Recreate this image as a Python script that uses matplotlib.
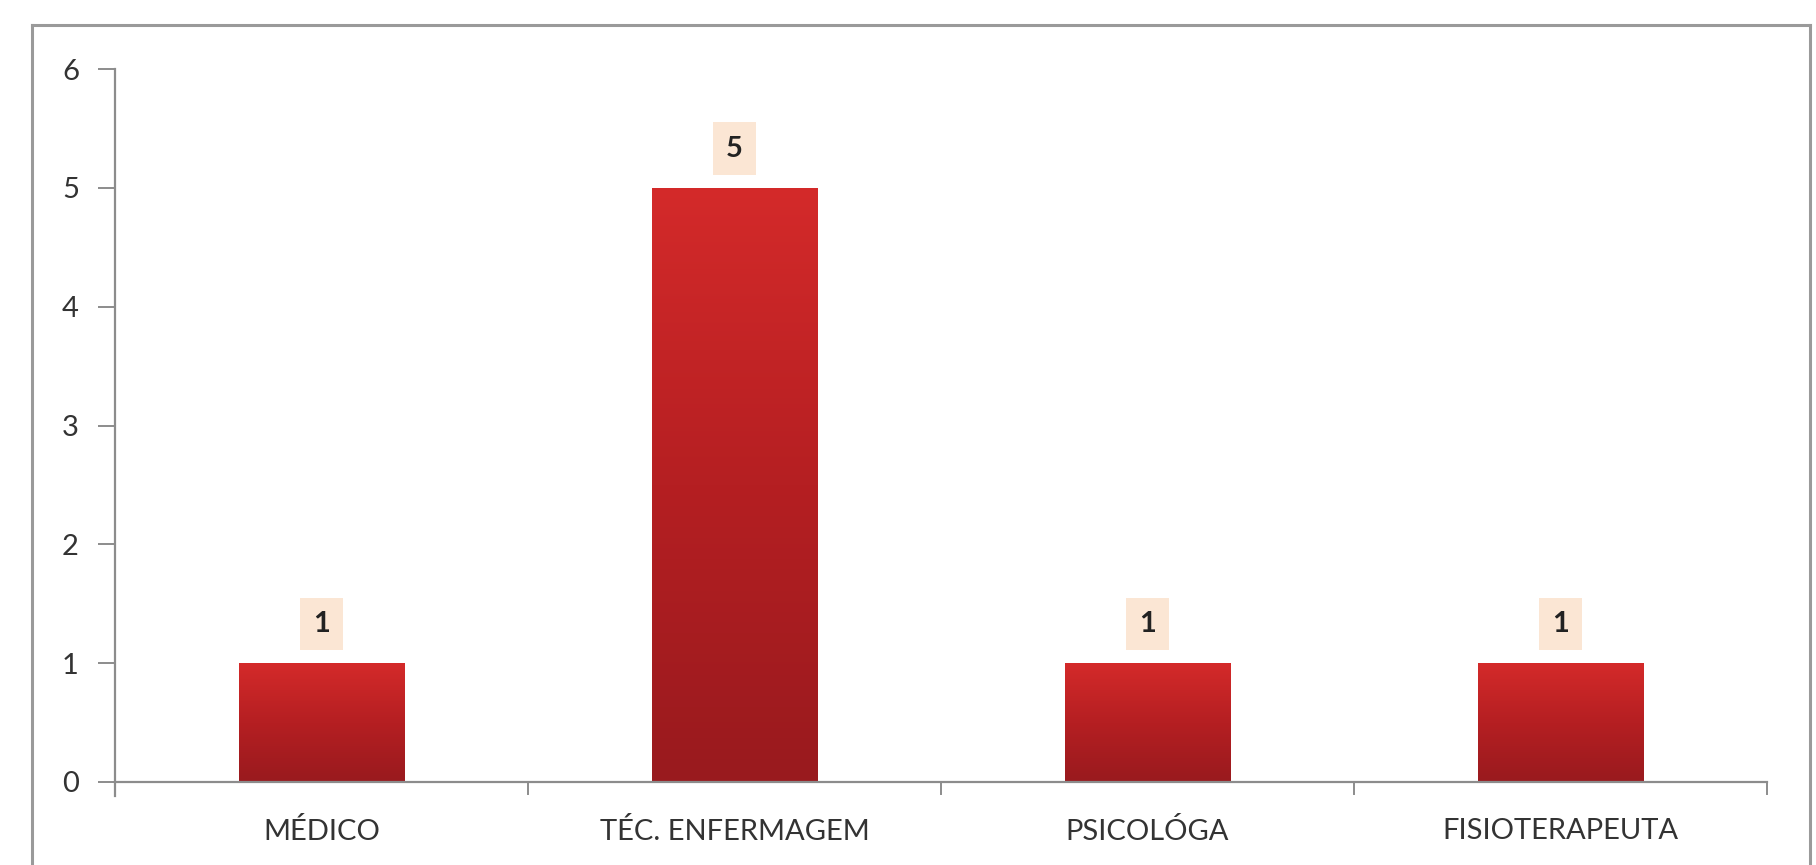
import numpy as np
import matplotlib
matplotlib.use("Agg")
import matplotlib.pyplot as plt
from matplotlib.colors import LinearSegmentedColormap
from matplotlib.patches import Rectangle

categories = ["MÉDICO", "TÉC. ENFERMAGEM", "PSICOLÓGA", "FISIOTERAPEUTA"]
counts = [1, 5, 1, 1]
yticks = [0, 1, 2, 3, 4, 5, 6]

plt.rcParams["font.family"] = ["Lato", "DejaVu Sans"]
W, H, DPI = 1816, 865, 100
fig = plt.figure(figsize=(W / DPI, H / DPI), dpi=DPI)
fig.patch.set_facecolor("white")

# outer chart frame (no bottom edge)
frame_col = "#9a9a9a"
fig.add_artist(plt.Line2D([32 / W, 32 / W], [0, 1 - 25 / H], color=frame_col, lw=2.2))
fig.add_artist(plt.Line2D([32 / W, 1810 / W], [1 - 25 / H, 1 - 25 / H], color=frame_col, lw=2.2))
fig.add_artist(plt.Line2D([1810 / W, 1810 / W], [0, 1 - 25 / H], color=frame_col, lw=2.2))

ax = fig.add_axes([115 / W, 1 - 782 / H, (1767 - 115) / W, (782 - 69) / H])
ax.set_xlim(-0.5, len(categories) - 0.5)
ax.set_ylim(0, 6)

axis_col = "#8c8c8c"
for s in ["top", "right"]:
    ax.spines[s].set_visible(False)
ax.spines["left"].set_color(axis_col)
ax.spines["bottom"].set_color(axis_col)
ax.spines["left"].set_linewidth(1.6)
ax.spines["bottom"].set_linewidth(1.6)
ax.spines["left"].set_bounds(-0.12, 6)

ax.set_yticks(yticks)
ax.tick_params(axis="y", length=12, width=1.4, color=axis_col, labelsize=21,
               labelcolor="#333333", pad=14)
ax.set_xticks(np.arange(len(categories)))
ax.set_xticklabels(categories)
ax.tick_params(axis="x", length=0, labelsize=21, labelcolor="#333333", pad=26)
# category boundary ticks
for b in np.arange(0.5, len(categories) + 0.5, 1.0):
    ax.plot([b, b], [0, -0.1], color=axis_col, lw=1.4, clip_on=False)

# vertical red gradient for bars
cmap = LinearSegmentedColormap.from_list("bar", ["#991a1e", "#b51f22", "#d42a2a"])
grad = np.linspace(0, 1, 256).reshape(-1, 1)
bw = 0.4
for i, v in enumerate(counts):
    x0 = i - bw / 2
    img = ax.imshow(grad, cmap=cmap, origin="lower", aspect="auto",
                    extent=[x0, x0 + bw, 0, v], zorder=2)
    rect = Rectangle((x0, 0), bw, v, facecolor="none", edgecolor="none")
    ax.add_patch(rect)
    img.set_clip_path(rect)
    ax.text(i, v + 0.33, f"{v}", ha="center", va="center", fontsize=21,
            fontweight="bold", color="#222222", zorder=3,
            bbox=dict(boxstyle="square,pad=0.45", facecolor="#fbe6d4",
                      edgecolor="none"))

ax.set_xlim(-0.5, len(categories) - 0.5)
ax.set_ylim(0, 6)
fig.savefig("out.png", dpi=DPI, facecolor="white")
